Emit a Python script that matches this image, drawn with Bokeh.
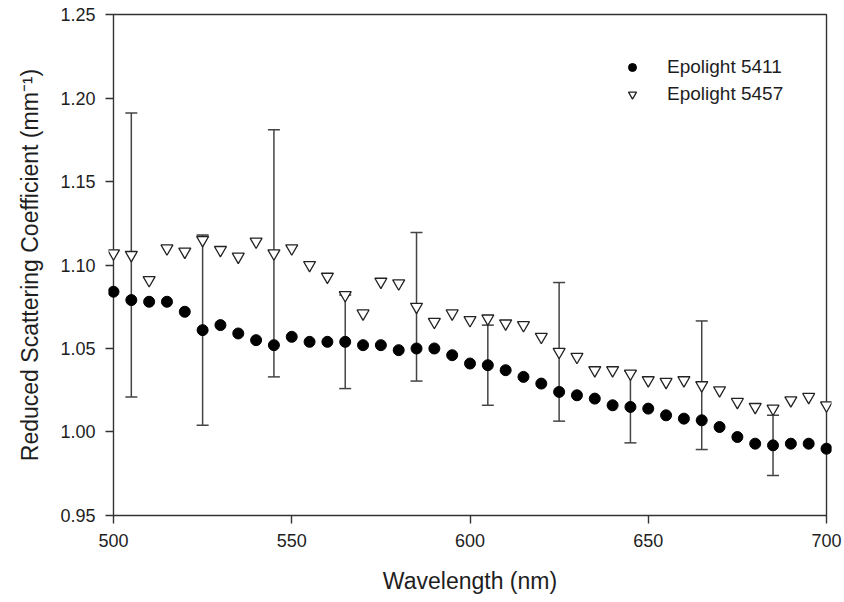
from bokeh.plotting import figure
from bokeh.models import (ColumnDataSource, Whisker, TeeHead, Legend, LegendItem,
                          FixedTicker, NumeralTickFormatter, BoxAnnotation)
from bokeh.embed import file_html
from bokeh.resources import INLINE

# ---------------- data ----------------
wavelength = [500, 505, 510, 515, 520, 525, 530, 535, 540, 545, 550, 555, 560, 565,
              570, 575, 580, 585, 590, 595, 600, 605, 610, 615, 620, 625, 630, 635,
              640, 645, 650, 655, 660, 665, 670, 675, 680, 685, 690, 695, 700]

epolight_5411 = [1.084, 1.079, 1.078, 1.078, 1.072, 1.061, 1.064, 1.059, 1.055, 1.052,
                 1.057, 1.054, 1.054, 1.054, 1.052, 1.052, 1.049, 1.050, 1.050, 1.046,
                 1.041, 1.040, 1.037, 1.033, 1.029, 1.024, 1.022, 1.020, 1.016, 1.015,
                 1.014, 1.010, 1.008, 1.007, 1.003, 0.997, 0.993, 0.992, 0.993, 0.993,
                 0.990]

epolight_5457 = [1.107, 1.106, 1.091, 1.110, 1.108, 1.115, 1.109, 1.105, 1.114, 1.107,
                 1.110, 1.100, 1.093, 1.082, 1.071, 1.090, 1.089, 1.075, 1.066, 1.071,
                 1.067, 1.068, 1.065, 1.064, 1.057, 1.048, 1.045, 1.037, 1.037, 1.035,
                 1.031, 1.030, 1.031, 1.028, 1.025, 1.018, 1.015, 1.014, 1.019, 1.021,
                 1.016]

err_wl_5411 = [525, 565, 605, 645, 685]
err_5411 = [0.057, 0.028, 0.024, 0.0215, 0.018]

err_wl_5457 = [505, 545, 585, 625, 665]
err_5457 = [0.085, 0.074, 0.0445, 0.0415, 0.0385]

x_ticks = [500, 550, 600, 650, 700]
y_ticks = [0.95, 1.00, 1.05, 1.10, 1.15, 1.20, 1.25]

labels = ["Epolight 5411", "Epolight 5457"]
x_label = "Wavelength (nm)"
y_label = "Reduced Scattering Coefficient (mm\u207b\u00b9)"

# ---------------- build ----------------
FONT = "Liberation Sans"
TXT = "#1e1e1e"
AX = "#333333"

x0, x1 = x_ticks[0], x_ticks[-1]
y0, y1 = y_ticks[0], y_ticks[-1]
# a little slack so that the end markers are not clipped by the frame
xpad = 1.4
ypad = 0.0012

p = figure(width=844, height=602, x_range=(x0 - xpad, x1 + xpad),
           y_range=(y0 - ypad, y1 + ypad),
           output_backend="svg", toolbar_location=None,
           min_border_left=108, min_border_right=13, min_border_top=12,
           min_border_bottom=85)
p.background_fill_color = "white"
p.border_fill_color = "white"
p.xgrid.visible = False
p.ygrid.visible = False
p.outline_line_color = None

# plot box drawn at the data limits
box = BoxAnnotation(left=x0, right=x1, bottom=y0, top=y1, fill_alpha=0,
                    line_color=AX, line_alpha=1.0, line_width=1.4,
                    level="underlay")
p.add_layout(box)

# error bars
def bars(wls, errs, series):
    centers = [series[wavelength.index(w)] for w in wls]
    src = ColumnDataSource(dict(x=wls,
                                lo=[c - e for c, e in zip(centers, errs)],
                                hi=[c + e for c, e in zip(centers, errs)]))
    w = Whisker(source=src, base="x", lower="lo", upper="hi", dimension="height",
                line_color="#444444", line_width=1.5, level="underlay",
                upper_head=TeeHead(size=12, line_color="#444444", line_width=1.5),
                lower_head=TeeHead(size=12, line_color="#444444", line_width=1.5))
    p.add_layout(w)

bars(err_wl_5411, err_5411, epolight_5411)
bars(err_wl_5457, err_5457, epolight_5457)

src = ColumnDataSource(dict(x=wavelength, a=epolight_5411, b=epolight_5457))
r1 = p.scatter("x", "a", source=src, marker="circle", size=11,
               fill_color="black", line_color="black")
r2 = p.scatter("x", "b", source=src, marker="inverted_triangle", size=12,
               fill_color="white", line_color="#222222", line_width=1.3)

legend = Legend(items=[LegendItem(label=labels[0], renderers=[r1]),
                       LegendItem(label=labels[1], renderers=[r2])],
                location=(514, 411), padding=0, margin=0, spacing=3,
                glyph_width=20, glyph_height=24, label_height=24,
                label_standoff=25, border_line_color=None,
                background_fill_alpha=0,
                label_text_font=FONT, label_text_font_size="19px",
                label_text_color=TXT)
p.add_layout(legend)

# axes
p.xaxis.ticker = FixedTicker(ticks=x_ticks)
p.yaxis.ticker = FixedTicker(ticks=y_ticks)
p.yaxis.formatter = NumeralTickFormatter(format="0.00")
for ax in (p.xaxis[0], p.yaxis[0]):
    ax.axis_line_color = None
    ax.major_tick_line_color = AX
    ax.major_tick_line_width = 1.4
    ax.minor_tick_line_color = None
    ax.major_label_text_font = FONT
    ax.major_label_text_font_size = "18px"
    ax.major_label_text_color = TXT
    ax.axis_label_text_font = FONT
    ax.axis_label_text_font_size = "23px"
    ax.axis_label_text_font_style = "normal"
    ax.axis_label_text_color = TXT

p.xaxis.major_tick_out = 6
p.xaxis.major_tick_in = 2
p.yaxis.major_tick_out = 3
p.yaxis.major_tick_in = 5
p.xaxis.major_label_standoff = 10
p.yaxis.major_label_standoff = 10
p.xaxis.axis_label = x_label
p.yaxis.axis_label = y_label
p.xaxis.axis_label_standoff = 18
p.yaxis.axis_label_standoff = 14

open("out.html", "w").write(file_html(p, INLINE))
